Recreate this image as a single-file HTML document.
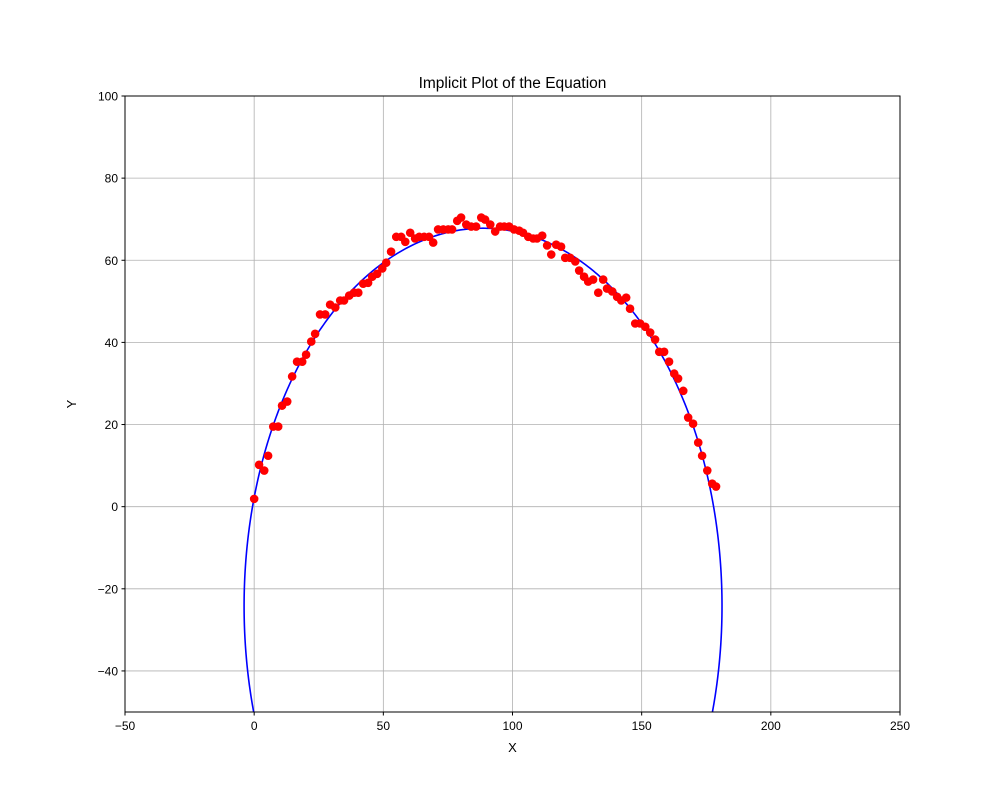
<!DOCTYPE html>
<html><head><meta charset="utf-8"><style>
html,body{margin:0;padding:0;background:#fff;overflow:hidden;width:1000px;height:800px;}
svg{display:block;font-family:"Liberation Sans","DejaVu Sans",sans-serif;}
</style></head><body>
<svg id="chart" width="1000" height="800" viewBox="0 0 1000 800" xmlns="http://www.w3.org/2000/svg">
<rect width="1000" height="800" fill="#fff"/>
<text x="512.5" y="88" font-size="15.5" text-anchor="middle">Implicit Plot of the Equation</text>
<g id="grid"></g>
<g id="curve"></g>
<g id="points"></g>
<rect x="125" y="96" width="775" height="616" fill="none" stroke="#000" stroke-width="1"/>
<g id="ticks"></g>
<text x="512.5" y="752" font-size="13" text-anchor="middle">X</text>
<text x="76" y="404" font-size="13" text-anchor="middle" transform="rotate(-90 76 404)">Y</text>
</svg>
<script>
const xTicks=[-50,0,50,100,150,200,250];
const yTicks=[-40,-20,0,20,40,60,80,100];
const ellipseCenter=[88.6,-24.2];
const ellipseRadii=[92.5,92];
const ptsX=[0,1.9,3.9,5.4,7.4,9.3,10.8,12.8,14.7,16.6,18.6,20.1,22.1,23.6,25.5,27.5,29.4,31.4,33.3,34.8,36.8,38.7,40.3,42.2,44.1,45.7,47.6,49.6,51.1,53.0,55.0,56.9,58.5,60.4,62.3,63.9,65.8,67.7,69.3,71.2,73.2,75.1,76.6,78.6,80.1,82.1,84.0,85.9,87.9,89.4,91.4,93.3,95.2,96.8,98.7,100.6,102.6,104.1,106.1,108.0,109.5,111.5,113.4,115.0,116.9,118.8,120.4,122.3,124.3,125.8,127.7,129.3,131.2,133.2,135.1,136.6,138.6,140.5,142.1,144.0,145.5,147.5,149.4,151.4,153.3,155.2,156.8,158.7,160.6,162.6,164.1,166.1,168.0,169.9,171.9,173.4,175.4,177.3,178.8];
const ptsY=[1.9,10.2,8.8,12.4,19.5,19.5,24.6,25.6,31.7,35.3,35.3,37.0,40.2,42.1,46.8,46.8,49.2,48.5,50.2,50.2,51.4,52.1,52.1,54.3,54.5,56.0,56.7,58.0,59.4,62.1,65.7,65.7,64.5,66.7,65.3,65.7,65.7,65.7,64.3,67.5,67.5,67.5,67.5,69.6,70.4,68.7,68.2,68.2,70.4,69.9,68.7,67.0,68.2,68.2,68.2,67.5,67.2,66.7,65.7,65.3,65.3,66.0,63.6,61.4,63.8,63.3,60.6,60.6,59.7,57.5,56.0,54.8,55.3,52.1,55.3,53.1,52.4,51.1,50.2,50.9,48.2,44.6,44.6,43.8,42.4,40.7,37.7,37.7,35.3,32.4,31.2,28.2,21.7,20.2,15.6,12.4,8.8,5.6,4.9];

const NS="http://www.w3.org/2000/svg";
const L=125,R=900,T=96,B=712,X0=-50,X1=250,Y0=-50,Y1=100;
const sx=v=>L+(v-X0)/(X1-X0)*(R-L);
const sy=v=>B-(v-Y0)/(Y1-Y0)*(B-T);
function mk(tag,attrs,parent){const e=document.createElementNS(NS,tag);for(const k in attrs)e.setAttribute(k,attrs[k]);parent.appendChild(e);return e;}
const grid=document.getElementById('grid'),ticks=document.getElementById('ticks');
xTicks.forEach(t=>{
  const g=mk('line',{x1:sx(t),x2:sx(t),y1:T,y2:B,stroke:'#b0b0b0','stroke-width':0.8},grid);
  
  
  const tk=mk('line',{x1:sx(t),x2:sx(t),y1:B,y2:B+3.5,stroke:'#000'},ticks);
  
  
  const tx=mk('text',{x:sx(t),y:B+18,'font-size':12,'text-anchor':'middle'},ticks);
  tx.textContent=String(t).replace('-','\u2212');
  
  
});
yTicks.forEach(t=>{
  const g=mk('line',{x1:L,x2:R,y1:sy(t),y2:sy(t),stroke:'#b0b0b0','stroke-width':0.8},grid);
  
  
  const tk=mk('line',{x1:L-3.5,x2:L,y1:sy(t),y2:sy(t),stroke:'#000'},ticks);
  
  
  const tx=mk('text',{x:L-7,y:sy(t)+4.5,'font-size':12,'text-anchor':'end'},ticks);
  tx.textContent=String(t).replace('-','\u2212');
  
  
});
let d='';
for(let i=0;i<=720;i++){const a=i/720*2*Math.PI;const x=ellipseCenter[0]+ellipseRadii[0]*Math.cos(a),y=ellipseCenter[1]+ellipseRadii[1]*Math.sin(a);d+=(i?'L':'M')+sx(x).toFixed(2)+','+sy(y).toFixed(2);}
const clip=mk('clipPath',{id:'pc'},document.getElementById('chart'));
mk('rect',{x:L,y:T,width:R-L,height:B-T},clip);
const cv=mk('path',{d:d,fill:'none',stroke:'#0000ff','stroke-width':1.6,'clip-path':'url(#pc)'},document.getElementById('curve'));


const pg=document.getElementById('points');
ptsX.forEach((x,i)=>{
  const c=mk('circle',{cx:sx(x),cy:sy(ptsY[i]),r:4.3,fill:'#ff0000'},pg);
  
  
});
</script>
</body></html>
